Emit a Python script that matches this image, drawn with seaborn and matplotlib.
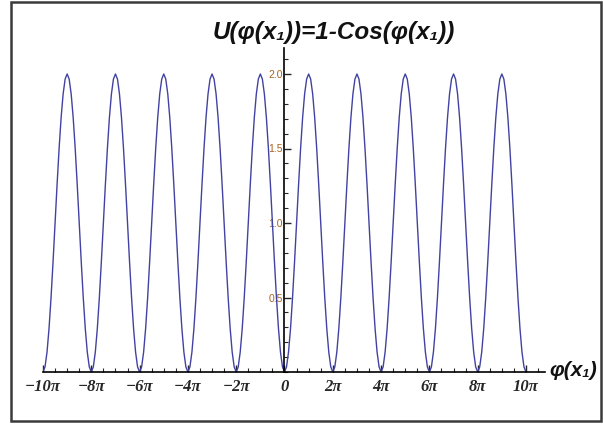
import numpy as np
import matplotlib
matplotlib.use('Agg')
import matplotlib.pyplot as plt
import seaborn as sns
import pandas as pd
from matplotlib.patches import Rectangle
from matplotlib.ticker import MultipleLocator

period_profile = [0.0, 0.0341, 0.1340, 0.2929, 0.5, 0.7412, 1.0, 1.2588, 1.5, 1.7071, 1.8660, 1.9659,
                  2.0, 1.9659, 1.8660, 1.7071, 1.5, 1.2588, 1.0, 0.7412, 0.5, 0.2929, 0.1340, 0.0341]
n_periods = 10
x_start_pi = -10

xtick_vals_pi = [-10, -8, -6, -4, -2, 0, 2, 4, 6, 8, 10]
xtick_labels = ['\u221210\u03c0', '\u22128\u03c0', '\u22126\u03c0', '\u22124\u03c0', '\u22122\u03c0', '0',
                '2\u03c0', '4\u03c0', '6\u03c0', '8\u03c0', '10\u03c0']
ytick_vals = [0.5, 1.0, 1.5, 2.0]
ytick_labels = ['0.5', '1.0', '1.5', '2.0']
title_text = 'U(\u03c6(x\u2081))=1-Cos(\u03c6(x\u2081))'
xlabel_text = '\u03c6(x\u2081)'

u_vals = period_profile * n_periods + [0.0]
step = 2 * np.pi / len(period_profile)
phi_vals = x_start_pi * np.pi + np.arange(len(u_vals)) * step
df = pd.DataFrame({'phi': phi_vals, 'U': u_vals})

sns.set_style('white')
plt.rcParams['font.family'] = ['Liberation Sans', 'DejaVu Sans']

W, H = 603, 425
fig = plt.figure(figsize=(W / 100, H / 100), dpi=100)
x0, x1 = 43, 545
y_axis, y_top = 372, 48
ax = fig.add_axes([x0 / W, (H - y_axis) / H, (x1 - x0) / W, (y_axis - y_top) / H])
ax.set_facecolor('none')

sns.lineplot(data=df, x='phi', y='U', ax=ax, color='#4242a2', lw=1.0, sort=False)

px_per_2pi = 48.3
ax.set_xlim(-10 * np.pi, 10 * np.pi + (x1 - 526) / px_per_2pi * 2 * np.pi)
ax.set_ylim(0, (y_axis - y_top) / 149.0)

for s in ['top', 'right']:
    ax.spines[s].set_visible(False)
ax.spines['left'].set_position(('data', 0))
ax.spines['left'].set_linewidth(1.2)
ax.spines['bottom'].set_linewidth(1.2)
ax.spines['left'].set_color('black')
ax.spines['bottom'].set_color('black')

ax.set_xticks([v * np.pi for v in xtick_vals_pi])
ax.set_xticklabels(xtick_labels)
ax.xaxis.set_minor_locator(MultipleLocator(np.pi / 2))
ax.set_yticks(ytick_vals)
ax.set_yticklabels(ytick_labels)
ax.yaxis.set_minor_locator(MultipleLocator(0.1))

ax.tick_params(axis='x', which='major', direction='in', length=5, width=1, pad=5, bottom=True)
ax.tick_params(axis='x', which='minor', direction='in', length=3, width=0.8, bottom=True)
ax.tick_params(axis='y', which='major', direction='in', length=5, width=1, pad=1, left=True,
               labelsize=7.5, labelcolor='#a8651f')
ax.tick_params(axis='y', which='minor', direction='in', length=3, width=0.8, left=True)
for lab in ax.get_xticklabels():
    lab.set_fontfamily(['Liberation Serif', 'DejaVu Serif'])
    lab.set_fontweight('bold')
    lab.set_fontstyle('italic')
    lab.set_fontsize(12)
ax.set_xlabel('')
ax.set_ylabel('')

fig.text(334 / W, 1 - 32 / H, title_text, ha='center', va='center', fontsize=17.5,
         fontweight='bold', fontstyle='italic', color='#111111')
fig.text(549 / W, 1 - 371 / H, xlabel_text, ha='left', va='center', fontsize=15,
         fontweight='bold', fontstyle='italic', color='#111111')

fig.patches.append(Rectangle((11 / W, 4 / H), (601 - 11) / W, (423 - 4) / H, transform=fig.transFigure,
                             fill=False, ec='#3a3a3a', lw=1.8))

fig.savefig('out.png', dpi=100)
